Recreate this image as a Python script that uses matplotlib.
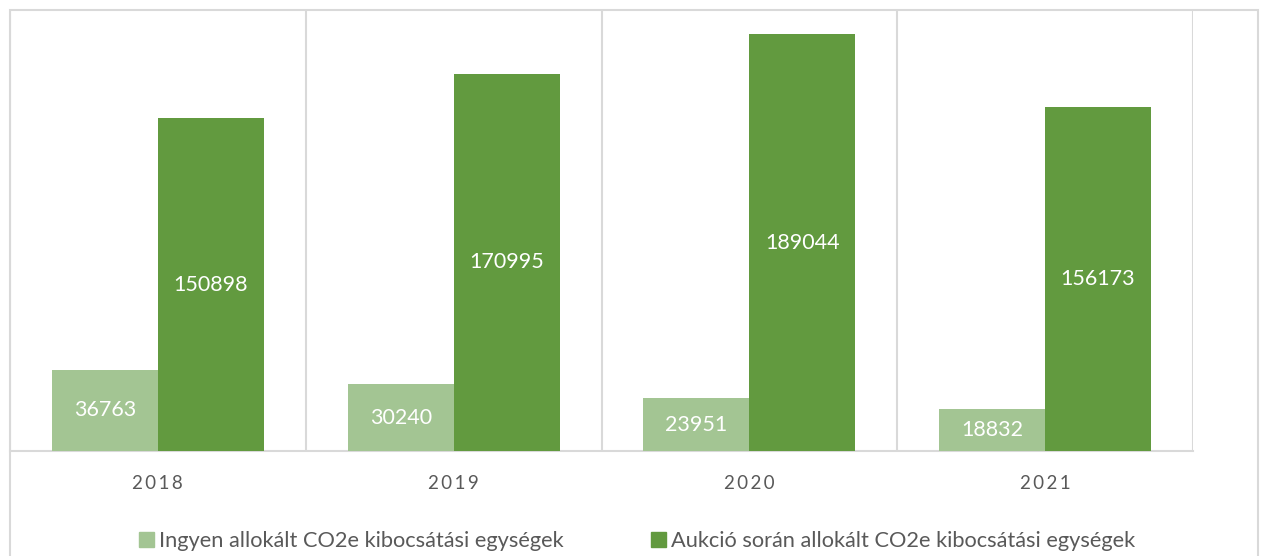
import numpy as np
import matplotlib.pyplot as plt
from matplotlib.patches import Rectangle, Patch

# chart data
years = ['2018', '2019', '2020', '2021']
free_alloc = [36763, 30240, 23951, 18832]
auction_alloc = [150898, 170995, 189044, 156173]
series_names = ['Ingyen allokált CO2e kibocsátási egységek',
                'Aukció során allokált CO2e kibocsátási egységek']

light_green = '#A3C593'
dark_green = '#629A3F'
grid_grey = '#D9D9D9'
text_grey = '#595959'

plt.rcParams['font.family'] = ['Lato', 'DejaVu Sans']

W, H = 1264, 556
fig = plt.figure(figsize=(W / 100, H / 100), dpi=100)
fig.patch.set_facecolor('white')

# outer chart border
fig.patches.append(Rectangle((10 / W, -0.05), 1248 / W, 1 + 0.05 - 10 / H,
                             transform=fig.transFigure, fill=False,
                             edgecolor=grid_grey, linewidth=1.5))

ax = fig.add_axes([10 / W, (H - 451) / H, 1183 / W, 441 / H])

x = np.arange(len(years))
bw = 0.358
b1 = ax.bar(x - bw / 2, free_alloc, bw, color=light_green, zorder=3)
b2 = ax.bar(x + bw / 2, auction_alloc, bw, color=dark_green, zorder=3)

for bars in (b1, b2):
    ax.bar_label(bars, label_type='center', color='white', fontsize=15.5)

ax.set_xlim(-0.5, len(years) - 0.5)
ax.set_ylim(0, 200000)
ax.set_yticks([])

# vertical gridlines between categories
ax.set_xticks(np.arange(-0.5, len(years)), minor=True)
ax.grid(True, which='minor', axis='x', color=grid_grey, linewidth=1.5, zorder=0)
ax.tick_params(axis='x', which='minor', length=0)

ax.set_xticks(x)
ax.set_xticklabels(['\u2009'.join(y) for y in years], color=text_grey, fontsize=13.5)
ax.tick_params(axis='x', which='major', length=0, pad=17)

for side in ('top', 'left', 'right'):
    ax.spines[side].set_visible(False)
ax.spines['bottom'].set_color(grid_grey)
ax.spines['bottom'].set_linewidth(1.5)

handles = [Patch(color=light_green), Patch(color=dark_green)]
leg = fig.legend(handles, series_names, loc='center', bbox_to_anchor=(0.504, (H - 541) / H),
                 ncol=2, frameon=False, fontsize=15.7, handlelength=0.68, handleheight=0.68,
                 handletextpad=0.25, columnspacing=4.0)
for t in leg.get_texts():
    t.set_color(text_grey)

fig.savefig('out.png', dpi=100)
